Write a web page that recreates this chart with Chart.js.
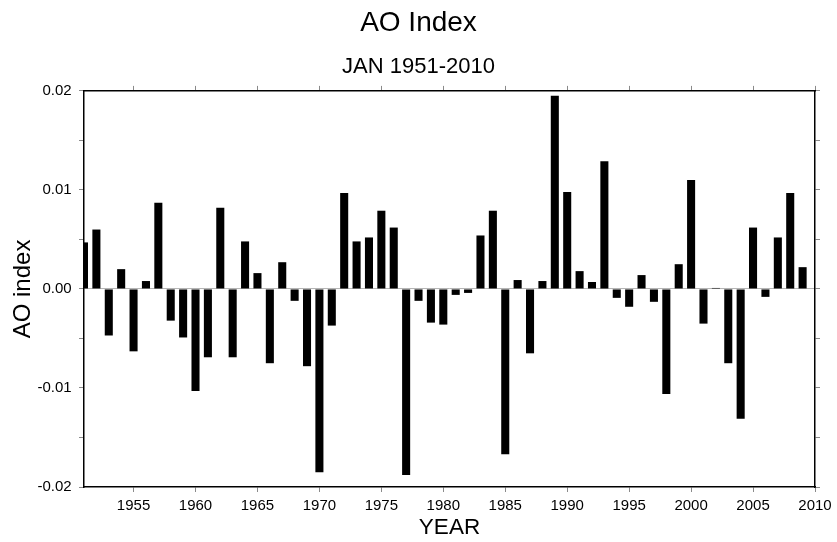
<!DOCTYPE html>
<html>
<head>
<meta charset="utf-8">
<title>AO Index</title>
<script src="https://cdn.jsdelivr.net/npm/chart.js@4.4.1/dist/chart.umd.min.js"></script>
<style>
    html, body { margin: 0; padding: 0; background: #fff; }
</style>
</head>
<body>
<canvas id="aoChart" width="837" height="542"></canvas>
<script>
// Data (JAN AO index)
const years = [
    1951, 1952, 1953, 1954, 1955, 1956, 1957, 1958, 1959, 1960,
    1961, 1962, 1963, 1964, 1965, 1966, 1967, 1968, 1969, 1970,
    1971, 1972, 1973, 1974, 1975, 1976, 1977, 1978, 1979, 1980,
    1981, 1982, 1983, 1984, 1985, 1986, 1987, 1988, 1989, 1990,
    1991, 1992, 1993, 1994, 1995, 1996, 1997, 1998, 1999, 2000,
    2001, 2002, 2003, 2004, 2005, 2006, 2007, 2008, 2009
];
const aoValues = [
    0.0047, 0.0060, -0.0047, 0.0020, -0.0063, 0.0008, 0.0087, -0.0032, -0.0049, -0.0103,
    -0.0069, 0.0082, -0.0069, 0.0048, 0.0016, -0.0075, 0.0027, -0.0012, -0.0078, -0.0185,
    -0.0037, 0.0097, 0.0048, 0.0052, 0.0079, 0.0062, -0.0188, -0.0012, -0.0034, -0.0036,
    -0.0006, -0.0004, 0.0054, 0.0079, -0.0167, 0.0009, -0.0065, 0.0008, 0.0195, 0.0098,
    0.0018, 0.0007, 0.0129, -0.0009, -0.0018, 0.0014, -0.0013, -0.0106, 0.0025, 0.0110,
    -0.0035, 0.0001, -0.0075, -0.0131, 0.0062, -0.0008, 0.0052, 0.0097, 0.0022
];
const yearTicks = [1955, 1960, 1965, 1970, 1975, 1980, 1985, 1990, 1995, 2000, 2005, 2010];
const indexTicks = [-0.02, -0.015, -0.01, -0.005, 0, 0.005, 0.01, 0.015, 0.02];
const labelledTicks = [-0.02, -0.01, 0, 0.01, 0.02];

const FONT = "'Liberation Sans', Arial, Helvetica, sans-serif";
const tickGray = '#8a8a8a';
const frame = { display: true, color: '#000', width: 1.5 };

// Fixed axis sizes so the plot box lands where the reference has it
function fixSize(size) {
    return function (scale) {
        if (scale.isHorizontal()) scale.height = size;
        else scale.width = size;
        scale.paddingLeft = scale.paddingRight = 0;
        scale.paddingTop = scale.paddingBottom = 0;
    };
}
function setYearTicks(scale) {
    scale.ticks = yearTicks.map(v => ({ value: v }));
}
function setIndexTicks(scale) {
    scale.ticks = indexTicks.map(v => ({ value: v }));
}

const ctx = document.getElementById('aoChart').getContext('2d');

new Chart(ctx, {
    type: 'bar',
    data: {
        datasets: [{
            label: 'AO index',
            data: years.map((y, i) => ({ x: y, y: aoValues[i] })),
            backgroundColor: '#000',
            borderWidth: 0,
            barPercentage: 0.65,
            categoryPercentage: 1
        }]
    },
    options: {
        responsive: false,
        animation: false,
        devicePixelRatio: 1,
        layout: { padding: 0 },
        plugins: {
            legend: { display: false },
            tooltip: { enabled: false },
            title: {
                display: true,
                text: 'AO Index',
                color: '#000',
                font: { family: FONT, size: 28, weight: 'normal' },
                padding: { top: 6.5, bottom: 13.4 }
            },
            subtitle: {
                display: true,
                text: 'JAN 1951-2010',
                color: '#000',
                font: { family: FONT, size: 22, weight: 'normal' },
                padding: { top: 0, bottom: 6 }
            }
        },
        scales: {
            x: {
                type: 'linear',
                position: 'bottom',
                min: 1951,
                max: 2010,
                offset: false,
                afterBuildTicks: setYearTicks,
                afterFit: fixSize(55),
                grid: {
                    offset: false,
                    drawOnChartArea: false,
                    tickLength: 5,
                    tickColor: tickGray
                },
                border: frame,
                ticks: {
                    color: '#000',
                    padding: 4.6,
                    maxRotation: 0,
                    autoSkip: false,
                    font: { family: FONT, size: 15 },
                    callback: v => String(v)
                },
                title: {
                    display: true,
                    text: 'YEAR',
                    color: '#000',
                    font: { family: FONT, size: 22.5 },
                    padding: { top: 0, bottom: 0.5 }
                }
            },
            x2: {
                type: 'linear',
                position: 'top',
                min: 1951,
                max: 2010,
                offset: false,
                afterBuildTicks: setYearTicks,
                afterFit: fixSize(5),
                grid: {
                    offset: false,
                    drawOnChartArea: false,
                    tickLength: 5,
                    tickColor: tickGray
                },
                border: frame,
                ticks: { display: false }
            },
            y: {
                type: 'linear',
                position: 'left',
                min: -0.02,
                max: 0.02,
                afterBuildTicks: setIndexTicks,
                afterFit: fixSize(84),
                grid: {
                    drawOnChartArea: true,
                    tickLength: 5,
                    tickColor: tickGray,
                    color: c => (c.tick && c.tick.value === 0) ? '#b5b5b5' : 'rgba(0,0,0,0)',
                    lineWidth: 1
                },
                border: frame,
                ticks: {
                    color: '#000',
                    padding: 7.3,
                    font: { family: FONT, size: 15 },
                    callback: function (v) {
                        const isMajor = labelledTicks.some(t => Math.abs(t - v) < 1e-9);
                        return isMajor ? v.toFixed(2) : '';
                    }
                },
                title: {
                    display: true,
                    text: 'AO index',
                    color: '#000',
                    font: { family: FONT, size: 24 },
                    padding: { top: 9, bottom: 0 }
                }
            },
            y2: {
                type: 'linear',
                position: 'right',
                min: -0.02,
                max: 0.02,
                afterBuildTicks: setIndexTicks,
                afterFit: fixSize(22),
                grid: {
                    drawOnChartArea: false,
                    tickLength: 5,
                    tickColor: tickGray
                },
                border: frame,
                ticks: { display: false }
            }
        }
    }
});
</script>
</body>
</html>
